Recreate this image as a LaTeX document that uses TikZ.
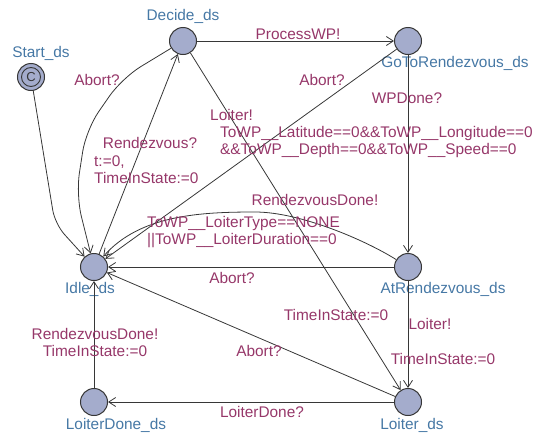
\documentclass[tikz,border=0pt]{standalone}
\usepackage{fontspec}
\setmainfont{Liberation Sans}
\usetikzlibrary{arrows.meta,positioning}
\definecolor{locfill}{RGB}{164,172,204}
\definecolor{namecolor}{RGB}{70,120,165}
\definecolor{labelcolor}{RGB}{150,55,105}
\definecolor{linecolor}{RGB}{55,55,55}
\tikzset{
	location/.style={
		circle,
		draw=linecolor,
		line width=1pt,
		fill=locfill,
		minimum size=27pt,
		inner sep=0pt
	},
	locname/.style={
		text=namecolor,
		inner sep=0pt
	},
	lbl/.style={
		text=labelcolor,
		inner sep=0pt
	},
	arrow/.style={
		draw=linecolor,
		line width=0.8pt,
		-{Straight Barb[length=7pt,width=9pt]}
	},
}

\begin{document}
\begin{tikzpicture}[x=1pt,y=-1pt,font=\fontsize{15.4}{17}\selectfont]
\useasboundingbox (0,0) rectangle (540,434);
% locations
\node [location] (start) at (31,77) {};
\node [location] (decide) at (183,41) {};
\node [location] (goto) at (408,41) {};
\node [location] (idle) at (94,267) {};
\node [location] (atrdv) at (408,267) {};
\node [location] (ldone) at (94,402) {};
\node [location] (loiter) at (408,402) {};
\draw[linecolor,line width=0.9pt] (start.center) circle[radius=9.5pt];
\node [text=linecolor,inner sep=0pt,font=\fontsize{13}{13}\selectfont] (startmark) at (start) {C};

\node [locname] (startname) at (41,53) {Start\_ds};
\node [locname] (decidename) at (183,16) {Decide\_ds};
\node [locname] (gotoname) at (455,63) {GoToRendezvous\_ds};
\node [locname] (idlename) at (90,289) {Idle\_ds};
\node [locname] (atrdvname) at (443,289) {AtRendezvous\_ds};
\node [locname] (ldonename) at (116,425) {LoiterDone\_ds};
\node [locname] (loitername) at (412,425) {Loiter\_ds};

% edges
\draw[arrow,rounded corners=14pt] (start) -- (55,224) -- (idle);
\draw[arrow,rounded corners=22pt] (decide) -- (122,78) -- (86,130) -- (76,195) -- (idle);
\draw[arrow] (atrdv) .. controls (365,240) and (300,212) .. (255,212)
	.. controls (200,212) and (140,215) .. (idle);
\path
(idle) edge[arrow] (decide)
(decide) edge[arrow] (goto)
(goto) edge[arrow] (idle)
(goto) edge[arrow] (atrdv)
(decide) edge[arrow] (loiter)
(atrdv) edge[arrow] (idle)
(atrdv) edge[arrow] (loiter)
(loiter) edge[arrow] (idle)
(loiter) edge[arrow] (ldone)
(ldone) edge[arrow] (idle)
;

% labels
\node [lbl] (abort1) at (97,80) {Abort?};
\node [lbl] (rdv) at (150,143) {Rendezvous?};
\node [lbl,align=left,anchor=west] (rdvupd) at (94,170) {t:=0,\\TimeInState:=0};
\node [lbl] (pwp) at (298,34) {ProcessWP!};
\node [lbl] (abort2) at (322,80) {Abort?};
\node [lbl] (wpdone) at (407,98) {WPDone?};
\node [lbl,anchor=west] (loiter1) at (210,115) {Loiter!};
\node [lbl,align=left,anchor=west] (guard1) at (220,142) {ToWP\_\_Latitude==0\&\&ToWP\_\_Longitude==0\\\&\&ToWP\_\_Depth==0\&\&ToWP\_\_Speed==0};
\node [lbl] (rdone1) at (315,200) {RendezvousDone!};
\node [lbl,align=left,anchor=west] (guard2) at (147,232) {ToWP\_\_LoiterType==NONE\\||ToWP\_\_LoiterDuration==0};
\node [lbl] (abort3) at (232,278) {Abort?};
\node [lbl] (tis1) at (336,315) {TimeInState:=0};
\node [lbl] (loiter2) at (430,324) {Loiter!};
\node [lbl] (tis2) at (443,359) {TimeInState:=0};
\node [lbl] (abort4) at (259,351) {Abort?};
\node [lbl] (ldq) at (262,412) {LoiterDone?};
\node [lbl,align=center] (rdone2) at (95,342) {RendezvousDone!\\TimeInState:=0};
\end{tikzpicture}
\end{document}
